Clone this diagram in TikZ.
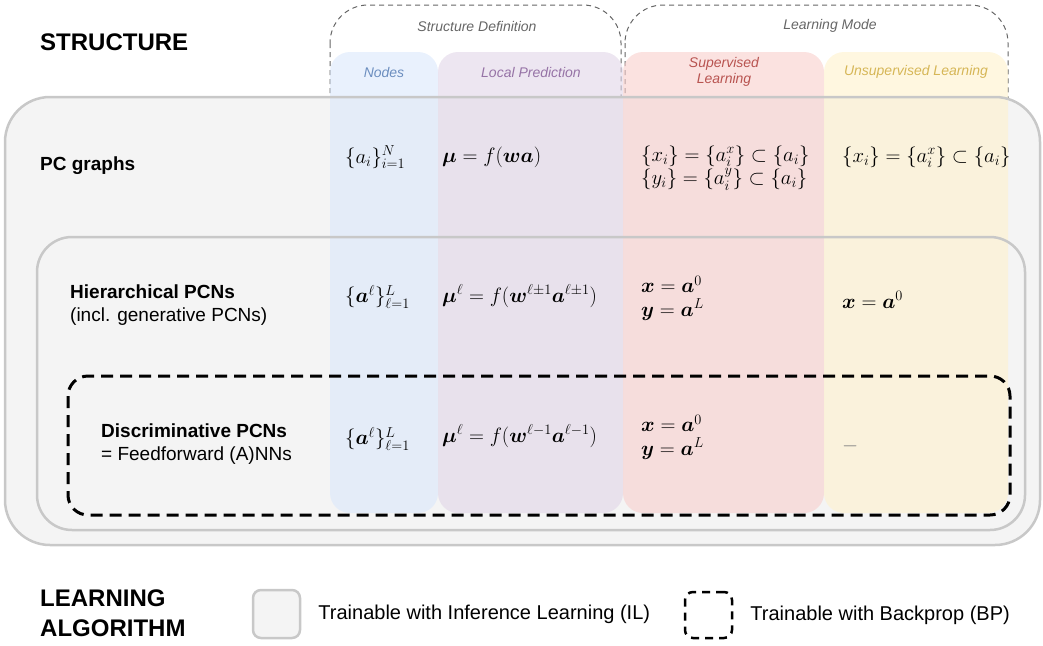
\documentclass[tikz,border=0pt]{standalone}
\usepackage{fontspec}
\usepackage{amsmath,bm}
\usetikzlibrary{positioning}
\newfontfamily\hv{Liberation Sans}
\definecolor{boxgray}{HTML}{F4F4F4}
\definecolor{linegray}{HTML}{C8C8C8}
\definecolor{nodesblue}{HTML}{DAE8FC}
\definecolor{nodestext}{HTML}{6C8EBF}
\definecolor{predpurple}{HTML}{E1D5E7}
\definecolor{predtext}{HTML}{9673A6}
\definecolor{supred}{HTML}{F8CECC}
\definecolor{suptext}{HTML}{B85450}
\definecolor{unsupyellow}{HTML}{FFF2CC}
\definecolor{unsuptext}{HTML}{D6B656}
\definecolor{headgray}{HTML}{666666}

\begin{document}
\begin{tikzpicture}[x=1pt, y=-1pt,
        groupbox/.style={draw=headgray, line width=1pt, dash pattern=on 5pt off 4pt, rounded corners=38pt},
        colbox/.style={fill opacity=0.6, rounded corners=20pt},
        grayframe/.style={draw=linegray, line width=2.5pt},
        bpframe/.style={draw=black, line width=3pt, dash pattern=on 12pt off 7pt, rounded corners=20pt},
        bigtitle/.style={anchor=west, align=left, inner sep=0pt, font=\hv\bfseries\fontsize{24}{30}\selectfont},
        rowlabel/.style={anchor=west, align=left, inner sep=0pt, font=\hv\fontsize{19}{23}\selectfont},
        colhead/.style={align=center, inner sep=0pt, font=\hv\itshape\fontsize{14}{16}\selectfont},
        formula/.style={anchor=west, align=left, inner sep=0pt, font=\fontsize{20.74}{23.5}\selectfont},
        ilkey/.style={draw=linegray, line width=2.5pt, fill=boxgray, rounded corners=8pt, minimum width=47pt, minimum height=48pt},
        bpkey/.style={draw=black, line width=2.5pt, dash pattern=on 8pt off 6pt, rounded corners=8pt, minimum width=47pt, minimum height=46pt},
        legendtext/.style={inner sep=0pt, font=\hv\fontsize{20}{24}\selectfont},
        ]
        \useasboundingbox (0,0) rectangle (1043,645);

        %Boxes
        \draw[groupbox] (330,5) rectangle (621,140);
        \draw[groupbox] (625,5) rectangle (1008,140);
        \fill[boxgray, rounded corners=45pt] (5,97) rectangle (1040,545);
        \fill[nodesblue, colbox]   (330,52) rectangle (438,513);
        \fill[predpurple, colbox]  (438,52) rectangle (623,513);
        \fill[supred, colbox]      (623,52) rectangle (824,513);
        \fill[unsupyellow, colbox] (824,52) rectangle (1008,513);
        \draw[grayframe, rounded corners=45pt] (5,97) rectangle (1040,545);
        \draw[grayframe, rounded corners=35pt] (37,237) rectangle (1025,530);
        \draw[bpframe] (68,376) rectangle (1010,515);

        %Headers
        \node[bigtitle] (structure) at (40,42) {STRUCTURE};
        \node[colhead, text=headgray]   (structdef) at (477,26) {Structure Definition};
        \node[colhead, text=headgray]   (learnmode) at (830,26) {Learning Mode};
        \node[colhead, text=nodestext]  (nodeshead) at (384,72) {Nodes};
        \node[colhead, text=predtext]   (predhead)  at (531,72) {Local Prediction};
        \node[colhead, text=suptext]    (suphead)   at (724,72) {Supervised\\Learning};
        \node[colhead, text=unsuptext]  (unsuphead) at (916,72) {Unsupervised Learning};

        %Rows
        \node[rowlabel] (pcgraphs) at (40,166)  {\bfseries PC graphs};
        \node[rowlabel] (hier)     at (70,305)  {{\bfseries Hierarchical PCNs}\\(incl. generative PCNs)};
        \node[rowlabel] (discr)    at (101,444) {{\bfseries Discriminative PCNs}\\= Feedforward (A)NNs};

        \node[formula] (nodesone)  at (345,157) {$\{a_i\}_{i=1}^N$};
        \node[formula] (predone)   at (442,157) {$\bm{\mu} = f(\bm{w}\bm{a})$};
        \node[formula] (supone)    at (641,168) {$\{x_i\} = \{a_i^x\} \subset \{a_i\}$\\$\{y_i\} = \{a_i^y\} \subset \{a_i\}$};
        \node[formula] (unsupone)  at (842,157) {$\{x_i\} = \{a_i^x\} \subset \{a_i\}$};

        \node[formula] (nodestwo)  at (345,297) {$\{\bm{a}^\ell\}_{\ell=1}^L$};
        \node[formula] (predtwo)   at (442,296) {$\bm{\mu}^\ell = f(\bm{w}^{\ell\pm1}\bm{a}^{\ell\pm1})$};
        \node[formula] (suptwo)    at (641,298) {$\bm{x} = \bm{a}^0$\\$\bm{y} = \bm{a}^L$};
        \node[formula] (unsuptwo)  at (842,300) {$\bm{x} = \bm{a}^0$};

        \node[formula] (nodesthree) at (345,439) {$\{\bm{a}^\ell\}_{\ell=1}^L$};
        \node[formula] (predthree)  at (442,436) {$\bm{\mu}^\ell = f(\bm{w}^{\ell-1}\bm{a}^{\ell-1})$};
        \node[formula] (supthree)   at (641,437) {$\bm{x} = \bm{a}^0$\\$\bm{y} = \bm{a}^L$};
        \node[formula, text=gray] (unsupthree) at (842,446) {$-$};

        %Legend
        \node[bigtitle] (learnalg) at (40,613) {LEARNING\\ALGORITHM};
        \node[ilkey] (ilbox) at (276.5,614) {};
        \node[legendtext, right=17pt of ilbox] (iltext) {Trainable with Inference Learning (IL)};
        \node[bpkey] (bpbox) at (708.5,615) {};
        \node[legendtext, right=17pt of bpbox] (bptext) {Trainable with Backprop (BP)};
\end{tikzpicture}
\end{document}
